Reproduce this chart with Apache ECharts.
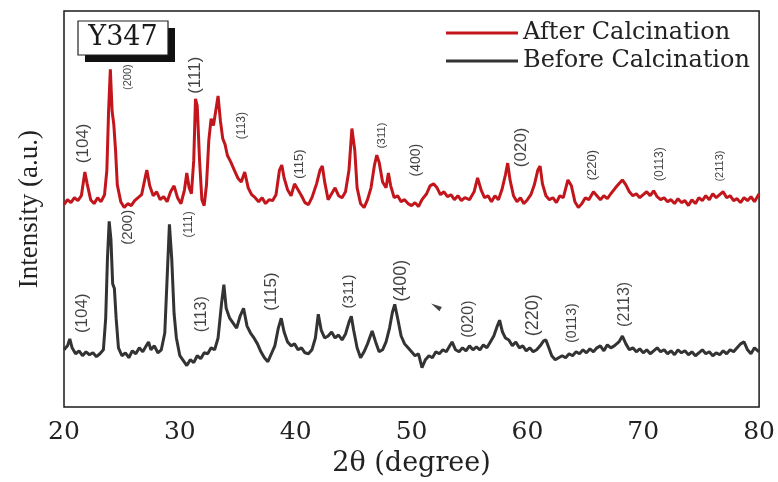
<!DOCTYPE html>
<html><head><meta charset="utf-8">
<script src="https://cdn.jsdelivr.net/npm/echarts@6/dist/echarts.min.js"></script>
<style>html,body{margin:0;padding:0;background:#fff}#c{width:778px;height:482px}</style>
</head><body><div id="c"></div>
<script>
// x ticks
const xTicks = [20, 30, 40, 50, 60, 70, 80];
// After Calcination: [2θ, intensity (a.u., offset)]
const afterCalc = [
[20.0,205],[20.3,210],[20.6,207],[20.9,212],[21.2,209],[21.5,214],[21.8,238],[22.0,226],[22.3,210],[22.6,206],[22.9,212],[23.2,208],[23.5,215],[23.7,240],[23.85,300],[24.0,342],[24.15,300],[24.3,286],[24.45,260],[24.6,225],[24.9,208],[25.2,202],[25.5,206],[25.8,204],[26.1,209],[26.4,212],[26.7,215],[27.0,232],[27.15,240],[27.4,224],[27.7,214],[28.0,218],[28.3,210],[28.6,213],[28.9,208],[29.2,218],[29.5,224],[29.8,212],[30.1,206],[30.4,220],[30.6,237],[30.8,222],[31.0,216],[31.2,250],[31.35,312],[31.5,305],[31.7,250],[31.9,210],[32.1,204],[32.3,225],[32.5,270],[32.7,292],[32.9,285],[33.1,300],[33.3,315],[33.5,290],[33.7,272],[33.9,266],[34.1,255],[34.4,248],[34.7,240],[35.0,232],[35.3,228],[35.6,238],[35.9,222],[36.2,215],[36.5,212],[36.8,208],[37.1,212],[37.4,206],[37.7,210],[38.0,209],[38.3,215],[38.6,240],[38.8,245],[39.0,232],[39.3,220],[39.6,214],[39.9,226],[40.2,220],[40.5,214],[40.8,207],[41.1,205],[41.4,212],[41.8,226],[42.1,240],[42.3,244],[42.5,228],[42.8,210],[43.1,216],[43.4,222],[43.7,214],[44.0,212],[44.3,218],[44.6,240],[44.85,282],[45.1,260],[45.3,222],[45.6,206],[45.9,202],[46.2,210],[46.5,222],[46.8,245],[47.0,255],[47.2,248],[47.5,228],[47.8,222],[48.0,237],[48.2,224],[48.5,212],[48.8,214],[49.1,208],[49.4,210],[49.7,206],[50.0,204],[50.3,207],[50.6,203],[50.9,210],[51.3,216],[51.6,224],[51.9,226],[52.2,222],[52.5,215],[52.8,218],[53.1,213],[53.4,215],[53.7,210],[54.0,214],[54.3,209],[54.6,212],[55.0,210],[55.4,218],[55.7,232],[56.0,220],[56.3,212],[56.6,214],[56.9,208],[57.2,214],[57.5,210],[57.8,220],[58.1,235],[58.3,247],[58.5,230],[58.8,214],[59.1,208],[59.4,212],[59.7,206],[60.0,210],[60.3,215],[60.6,225],[60.9,240],[61.1,244],[61.3,226],[61.6,214],[61.9,210],[62.2,212],[62.5,207],[62.8,214],[63.1,212],[63.5,230],[63.8,224],[64.1,208],[64.4,202],[64.7,206],[65.0,212],[65.3,210],[65.7,218],[66.0,214],[66.3,210],[66.6,214],[66.9,211],[67.2,216],[67.6,222],[67.9,226],[68.2,230],[68.5,225],[68.8,218],[69.1,214],[69.4,216],[69.7,212],[70.0,215],[70.3,218],[70.6,214],[70.9,219],[71.2,213],[71.5,210],[71.8,212],[72.1,208],[72.4,210],[72.7,206],[73.0,211],[73.3,207],[73.6,209],[73.9,204],[74.2,210],[74.5,206],[74.8,212],[75.1,209],[75.4,214],[75.7,210],[76.0,216],[76.3,212],[76.6,215],[76.9,218],[77.2,212],[77.5,214],[77.8,209],[78.1,211],[78.4,207],[78.7,212],[79.0,209],[79.3,213],[79.6,208],[80.0,216]
];
// Before Calcination
const beforeCalc = [
[20.0,58],[20.3,62],[20.5,69],[20.7,60],[21.0,54],[21.3,57],[21.6,52],[21.9,56],[22.2,53],[22.5,55],[22.8,51],[23.1,54],[23.4,58],[23.6,90],[23.75,150],[23.9,188],[24.05,170],[24.2,125],[24.35,120],[24.5,90],[24.7,60],[25.0,52],[25.3,55],[25.6,50],[25.9,57],[26.2,54],[26.5,60],[26.8,56],[27.1,62],[27.3,66],[27.5,58],[27.8,62],[28.1,55],[28.4,58],[28.7,75],[28.9,130],[29.1,185],[29.3,150],[29.5,95],[29.7,70],[30.0,52],[30.3,47],[30.6,42],[30.9,48],[31.2,45],[31.5,52],[31.8,49],[32.1,55],[32.4,54],[32.7,60],[33.0,58],[33.3,70],[33.6,105],[33.8,124],[34.0,100],[34.3,90],[34.6,85],[34.9,80],[35.2,92],[35.5,100],[35.8,82],[36.1,75],[36.4,70],[36.7,64],[37.0,56],[37.3,50],[37.6,46],[37.9,54],[38.2,62],[38.5,80],[38.75,90],[39.0,76],[39.3,66],[39.6,62],[39.9,64],[40.2,58],[40.5,60],[40.8,55],[41.1,54],[41.4,58],[41.7,70],[41.95,94],[42.2,78],[42.5,70],[42.8,72],[43.1,76],[43.4,70],[43.7,73],[44.0,68],[44.3,74],[44.6,86],[44.8,92],[45.0,78],[45.3,60],[45.6,50],[45.9,56],[46.2,64],[46.6,77],[46.9,66],[47.2,56],[47.5,58],[47.8,66],[48.1,80],[48.35,96],[48.55,104],[48.8,90],[49.1,72],[49.4,64],[49.7,60],[50.0,56],[50.3,52],[50.6,54],[50.9,40],[51.2,48],[51.5,52],[51.8,50],[52.1,56],[52.4,54],[52.7,58],[53.0,56],[53.3,62],[53.5,66],[53.8,58],[54.1,56],[54.4,60],[54.7,57],[55.0,62],[55.3,58],[55.6,61],[55.9,58],[56.2,63],[56.5,60],[56.8,66],[57.1,72],[57.4,82],[57.6,88],[57.85,76],[58.1,70],[58.4,68],[58.7,62],[59.0,66],[59.3,60],[59.6,62],[59.9,57],[60.2,60],[60.5,56],[60.8,58],[61.1,62],[61.4,67],[61.6,68],[61.85,60],[62.1,52],[62.4,48],[62.7,50],[63.0,52],[63.3,50],[63.6,54],[63.9,52],[64.2,56],[64.5,54],[64.8,58],[65.1,55],[65.4,59],[65.7,56],[66.0,60],[66.3,62],[66.6,57],[66.9,63],[67.2,60],[67.5,62],[67.9,66],[68.2,72],[68.5,64],[68.8,58],[69.1,60],[69.4,56],[69.7,59],[70.0,55],[70.3,58],[70.6,54],[70.9,57],[71.2,60],[71.5,56],[71.8,58],[72.1,54],[72.4,57],[72.7,53],[73.0,58],[73.3,55],[73.6,57],[73.9,53],[74.2,56],[74.5,52],[74.8,55],[75.1,58],[75.4,54],[75.7,56],[76.0,52],[76.3,55],[76.6,53],[76.9,57],[77.2,54],[77.5,58],[77.8,56],[78.1,60],[78.4,64],[78.7,66],[79.0,58],[79.3,54],[79.6,60],[80.0,56]
];
// Peak labels: [text, 2θ, intensity position, font size]
const afterLabels = [
["(104)",21.7,267,17],["(200)",25.5,334,11],["(111)",31.3,336,17],["(113)",35.3,285,12],["(115)",40.3,246,13],["(311)",47.4,275,11.5],["(400)",50.4,250,14],["(020)",59.5,263,17],["(220)",65.6,245,13],["(0113)",71.4,246,12],["(2113)",76.6,244,11]
];
const beforeLabels = [
["(104)",21.6,95,17],["(200)",25.5,182,15],["(111)",30.8,185,12],["(113)",31.9,94,16],["(115)",37.9,117,17],["(311)",44.6,117,15],["(400)",49.1,128,18],["(020)",54.9,89,16],["(220)",60.5,93,18],["(0113)",63.9,85,14],["(2113)",68.4,104,16]
];
const seriesNames = ["After Calcination", "Before Calcination"];

const serif = "'Liberation Serif','Times New Roman',serif";
const wideSerif = "'DejaVu Serif',serif";
const sans = "'Liberation Sans',Arial,sans-serif";
const labelItems = afterLabels.concat(beforeLabels).map(l => ({
  name: l[0], value: [l[1], l[2]],
  label: { fontSize: l[3] }
}));

const chart = echarts.init(document.getElementById('c'), null, {renderer: 'canvas'});
chart.setOption({
  animation: false,
  backgroundColor: '#fff',
  grid: { left: 64, right: 16, top: 11, bottom: 70, show: true, borderColor: '#1a1a1a', borderWidth: 1.5, backgroundColor: 'transparent' },
  legend: {
    data: seriesNames, orient: 'vertical', left: 441, top: 16, itemGap: 4,
    itemWidth: 72, itemHeight: 3, icon: 'rect',
    textStyle: { fontFamily: wideSerif, fontSize: 24, color: '#222' }
  },
  xAxis: {
    type: 'value', min: xTicks[0], max: xTicks[xTicks.length - 1], interval: 10,
    axisLine: { show: false }, axisTick: { show: false }, splitLine: { show: false },
    axisLabel: { fontFamily: wideSerif, fontSize: 25, color: '#222', margin: 13 },
    name: '2θ (degree)', nameLocation: 'middle', nameGap: 40,
    nameTextStyle: { fontFamily: wideSerif, fontSize: 27, color: '#222' }
  },
  yAxis: {
    type: 'value', min: 0, max: 401,
    axisLine: { show: false }, axisTick: { show: false }, axisLabel: { show: false }, splitLine: { show: false },
    name: 'Intensity (a.u.)', nameLocation: 'middle', nameGap: 21, nameRotate: 90,
    nameTextStyle: { fontFamily: serif, fontSize: 27, color: '#222' }
  },
  series: [
    { name: seriesNames[0], type: 'line', data: afterCalc, symbol: 'none', lineStyle: { color: '#c3161c', width: 3 }, itemStyle: { color: '#c3161c' } },
    { name: seriesNames[1], type: 'line', data: beforeCalc, symbol: 'none', lineStyle: { color: '#333', width: 3 }, itemStyle: { color: '#333' } },
    { name: 'labels', type: 'scatter', data: labelItems, symbolSize: 1, itemStyle: { color: 'rgba(0,0,0,0)' }, silent: true, z: 5,
      label: { show: true, position: 'inside', rotate: 90, formatter: p => p.name, fontFamily: sans, color: '#111' } },
    { name: 'mark', type: 'scatter', data: [[52.1, 102]], symbol: 'triangle', symbolSize: [5, 11], symbolRotate: 60, silent: true, itemStyle: { color: '#111' } }
  ],
  graphic: [
    { type: 'rect', shape: { x: 85, y: 28, width: 90, height: 34 }, style: { fill: '#111' } },
    { type: 'rect', shape: { x: 78, y: 21, width: 90, height: 34 }, style: { fill: '#fff', stroke: '#222', lineWidth: 1.2 } },
    { type: 'text', x: 123, y: 38, style: { text: 'Y347', fontFamily: wideSerif, fontSize: 27, fill: '#1a1a1a', align: 'center', verticalAlign: 'middle' } }
  ]
});
</script></body></html>
